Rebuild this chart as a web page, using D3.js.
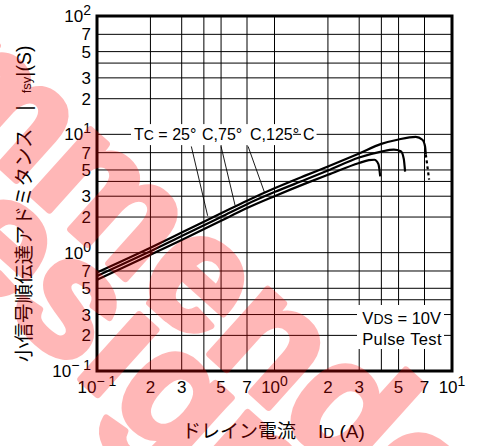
<!DOCTYPE html>
<html>
<head>
<meta charset="utf-8">
<script src="https://cdnjs.cloudflare.com/ajax/libs/d3/7.8.5/d3.min.js"></script>
<style>
body { margin: 0; background: #fff; }
svg { display: block; }
text { font-family: "Liberation Sans", Arial, sans-serif; fill: #000; }
.jp { font-family: "Noto Sans CJK JP", sans-serif; }
</style>
</head>
<body>
<svg id="chart" width="477" height="446"></svg>
<script>
// Drain current ID (A) vs small-signal forward transfer admittance |yfs| (S)
const id25 = [0.1, 0.2, 0.3, 0.5, 0.7, 1, 1.5, 2, 3, 4, 5, 6.25, 6.81, 7.05, 7.12];
const yfs25 = [0.68, 1.1, 1.48, 2.15, 2.75, 3.5, 4.5, 5.35, 6.9, 8.3, 9.05, 9.5, 9.0, 7.9, 6.75];
const id25Pulse = [7.12, 7.43];
const yfs25Pulse = [6.75, 4.15];

const id75 = [0.1, 0.2, 0.3, 0.5, 0.7, 1, 1.5, 2, 3, 4, 4.7, 5.15, 5.35, 5.44];
const yfs75 = [0.635, 1.03, 1.38, 2.0, 2.57, 3.25, 4.15, 4.95, 6.38, 7.15, 7.42, 7.2, 6.2, 4.84];

const id125 = [0.1, 0.2, 0.3, 0.5, 0.7, 1, 1.5, 2, 3, 3.4, 3.65, 3.85, 3.94];
const yfs125 = [0.59, 0.96, 1.28, 1.86, 2.38, 3.0, 3.85, 4.55, 5.73, 6.05, 6.1, 5.6, 4.42];

// grid and tick labels
const xGrid = [0.2, 0.3, 0.4, 0.5, 0.7, 1, 2, 3, 4, 5, 7];
const yGrid = [0.2, 0.3, 0.4, 0.5, 0.7, 1, 2, 3, 4, 5, 7, 10, 20, 30, 40, 50, 70];
const xTicks = [0.1, 0.2, 0.3, 0.5, 0.7, 1, 2, 3, 5, 7, 10];
const yTicks = [0.1, 0.2, 0.3, 0.5, 0.7, 1, 2, 3, 5, 7, 10, 20, 30, 50, 70, 100];

// leader lines from the Tc label to the curves: [ID, |yfs|]
const leaderFrom = [[0.34, 7.9], [0.5, 7.9], [0.71, 7.9]];
const leaderTo = [[0.42, 2.05], [0.6, 2.5], [0.88, 3.2]];

const svg = d3.select('#chart');
const plotL = 97, plotT = 16, plotR = 452, plotB = 371;

const x = d3.scaleLog().domain([0.1, 10]).range([plotL, plotR]);
const y = d3.scaleLog().domain([0.1, 100]).range([plotB, plotT]);

// grid
svg.append('g').selectAll('line').data(xGrid).join('line')
    .attr('x1', d => x(d)).attr('x2', d => x(d))
    .attr('y1', plotT).attr('y2', plotB)
    .attr('stroke', '#000').attr('stroke-width', 1);
svg.append('g').selectAll('line').data(yGrid).join('line')
    .attr('x1', plotL).attr('x2', plotR)
    .attr('y1', d => y(d)).attr('y2', d => y(d))
    .attr('stroke', '#000').attr('stroke-width', 1);

// curves
const line = d3.line().x(d => x(d[0])).y(d => y(d[1])).curve(d3.curveMonotoneX);
const series = [[id25, yfs25], [id75, yfs75], [id125, yfs125]];
series.forEach(([ids, vals]) => {
    svg.append('path')
        .attr('d', line(ids.map((v, i) => [v, vals[i]])))
        .attr('fill', 'none').attr('stroke', '#000').attr('stroke-width', 2.2);
});
svg.append('path')
    .attr('d', d3.line().x(d => x(d[0])).y(d => y(d[1]))(id25Pulse.map((v, i) => [v, yfs25Pulse[i]])))
    .attr('fill', 'none').attr('stroke', '#000').attr('stroke-width', 2.2)
    .attr('stroke-dasharray', '3,3');

// tick labels
function tickLabel(sel, d) {
    const e = Math.round(Math.log10(d));
    if (Math.abs(Math.log10(d) - e) < 1e-9) {
        sel.append('tspan').text('10');
        sel.append('tspan').attr('font-size', 14).attr('dy', -7).text(e < 0 ? '\u2212 ' + (-e) : e);
    } else {
        sel.text(Math.round(d / Math.pow(10, Math.floor(Math.log10(d)))));
    }
}
svg.append('g').selectAll('text').data(yTicks).join('text')
    .attr('x', 91).attr('y', d => y(d)).attr('dy', '0.36em')
    .attr('text-anchor', 'end').attr('font-size', 17)
    .each(function(d) { tickLabel(d3.select(this), d); });
svg.append('g').selectAll('text').data(xTicks).join('text')
    .attr('x', d => x(d)).attr('y', 393)
    .attr('text-anchor', 'middle').attr('font-size', 17)
    .each(function(d) { tickLabel(d3.select(this), d); });

// Tc annotation
const tcParts = [['T', 'C', ' = 25°'], ['', 'C,75°', ''], ['', 'C,125°', ''], ['', 'C', '']];
const tcX = [134, 202, 250, 303];
const tcGroup = svg.append('g');
const tcTexts = tcParts.map((p, i) => {
    const t = tcGroup.append('text').attr('x', tcX[i]).attr('y', y(10)).attr('dy', '0.36em')
        .attr('font-size', 16);
    if (p[0]) {
        t.append('tspan').text(p[0]);
        t.append('tspan').attr('font-size', 14).text(p[1]);
        t.append('tspan').text(p[2]);
    } else {
        t.text(p[1]);
    }
    return t;
});
const b0 = tcTexts[0].node().getBBox();
const b2 = tcTexts[2].node().getBBox();
const b3 = tcTexts[3].node().getBBox();
tcGroup.insert('rect', 'text').attr('x', b0.x - 3).attr('y', b0.y - 2)
    .attr('width', b2.x + b2.width - 6 - b0.x + 3).attr('height', b0.height + 4).attr('fill', '#fff');
tcGroup.insert('rect', 'text').attr('x', b3.x - 2).attr('y', b3.y - 2)
    .attr('width', b3.width + 4).attr('height', b3.height + 4).attr('fill', '#fff');

svg.append('g').selectAll('line').data(leaderFrom).join('line')
    .attr('x1', d => x(d[0])).attr('y1', d => y(d[1]))
    .attr('x2', (d, i) => x(leaderTo[i][0])).attr('y2', (d, i) => y(leaderTo[i][1]))
    .attr('stroke', '#000').attr('stroke-width', 0.9);

// VDS / pulse test box
svg.append('rect').attr('x', 357).attr('y', 305).attr('width', 87).attr('height', 44).attr('fill', '#fff');
const vds = svg.append('text').attr('x', 441).attr('y', 324).attr('text-anchor', 'end').attr('font-size', 16.5);
vds.append('tspan').text('V');
vds.append('tspan').attr('font-size', 14).text('DS');
vds.append('tspan').text(' = 10V');
svg.append('text').attr('x', 442).attr('y', 345).attr('text-anchor', 'end')
    .attr('font-size', 16.5).attr('letter-spacing', 0.4).text('Pulse Test');

// frame
svg.append('rect').attr('x', plotL).attr('y', plotT).attr('width', plotR - plotL).attr('height', plotB - plotT)
    .attr('fill', 'none').attr('stroke', '#000').attr('stroke-width', 3);

// axis titles
const xt = svg.append('text').attr('x', 182).attr('y', 438).attr('font-size', 19);
xt.append('tspan').attr('class', 'jp').text('ドレイン電流');
xt.append('tspan').attr('dx', 22).text('I');
xt.append('tspan').attr('font-size', 15).text('D');
xt.append('tspan').text(' (A)');

const yt = svg.append('text').attr('transform', 'translate(31,362) rotate(-90)').attr('font-size', 19.5);
yt.append('tspan').attr('class', 'jp').text('小信号順伝達アドミタンス');
yt.append('tspan').attr('dx', 18).text('|');
yt.append('tspan').attr('dx', 12).attr('font-size', 13).text('fs');
yt.append('tspan').attr('font-size', 13).text('y');
yt.append('tspan').text('|(S)');

// watermark
const wm = svg.append('g').attr('pointer-events', 'none').attr('opacity', 0.28);
function watermark(str, idx, cx, cy, size) {
    const t = wm.append('text').attr('font-size', size).attr('font-weight', 'bold')
        .style('fill', '#ff0000').style('stroke', '#ff0000').style('stroke-width', 7)
        .style('stroke-linejoin', 'round').text(str);
    const n = t.node();
    const along = n.getSubStringLength(0, idx) + n.getSubStringLength(idx, 1) / 2;
    const up = size * 0.27;
    const a = 42 * Math.PI / 180;
    const ox = cx - (along * Math.cos(a) + up * Math.sin(a));
    const oy = cy - (along * Math.sin(a) - up * Math.cos(a));
    t.attr('transform', `translate(${ox},${oy}) rotate(42)`);
}
watermark('Not Recommended', 10, 197, 283, 165);
watermark('for New Design', 10, 68, 308, 165);
</script>
</body>
</html>
